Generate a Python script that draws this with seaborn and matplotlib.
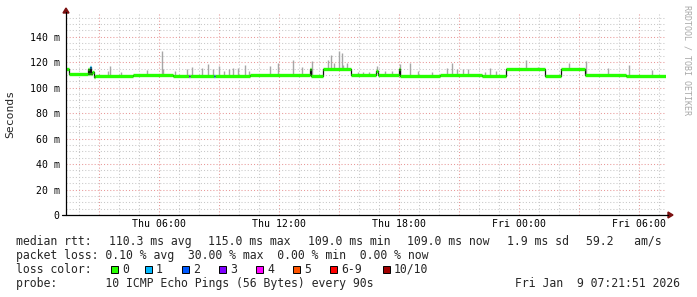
import numpy as np
import pandas as pd
import matplotlib
matplotlib.use("Agg")
import matplotlib.pyplot as plt
import seaborn as sns
from matplotlib.patches import Rectangle, Polygon
from matplotlib.lines import Line2D

# ---------------- data (time in hours since Thu 00:00, values in ms) ----------------
t_start = 1.3642   # Thu 01:21:51
t_end = 31.3642    # Fri 07:21:51

seg_start = [1.364, 1.51, 2.46, 2.51, 2.56, 2.61, 2.66, 2.76, 2.81, 4.71, 6.71, 7.51, 7.56,
             8.76, 8.81, 10.56, 13.56, 13.61, 14.21, 15.61, 16.86, 16.94, 18.01, 18.06,
             20.06, 22.16, 23.36, 25.31, 26.11, 27.31, 29.36]
seg_value = [114.8, 110.4, 114.6, 110.4, 116.0, 110.4, 112.5, 108.6, 109.3, 110.3, 109.3, 108.8, 109.3,
             108.8, 109.3, 110.3, 114.5, 109.3, 115.0, 110.3, 113.0, 110.3, 114.4, 109.3,
             110.3, 109.0, 114.4, 109.2, 114.4, 110.0, 109.2]
seg_loss = [0, 0, 0, 0, 1, 0, 0, 0, 0, 0, 0, 3, 0,
            2, 0, 0, 0, 0, 0, 0, 0, 0, 0, 0,
            0, 0, 0, 0, 0, 0, 0]

smoke_time = [3.45, 3.56, 4.10, 5.41, 6.14, 6.23, 6.81, 7.40, 7.68, 8.18, 8.44, 8.73, 9.01,
              9.25, 9.53, 9.73, 9.98, 10.31, 10.53, 11.56, 11.98, 12.73, 13.15, 13.65,
              14.48, 14.59, 14.76, 14.86, 15.03, 15.15, 15.23, 15.40, 15.98, 16.23, 16.53,
              16.90, 17.31, 17.65, 18.06, 18.56, 18.98, 19.65, 20.40, 20.66, 20.90, 21.23,
              21.48, 22.31, 22.56, 22.86, 24.35, 24.98, 26.53, 27.35, 28.48, 29.53, 30.65]
smoke_top = [113.3, 117.0, 112.0, 114.0, 129.0, 115.0, 113.0, 114.5, 116.4, 115.5, 118.6, 114.6, 117.0,
             113.0, 114.4, 115.4, 115.4, 117.8, 113.0, 117.0, 119.0, 121.7, 116.0, 121.0,
             121.5, 125.6, 119.0, 115.5, 128.5, 127.2, 118.0, 119.0, 112.5, 112.5, 112.5,
             117.2, 112.8, 113.0, 118.6, 119.6, 113.0, 112.5, 115.2, 119.0, 114.4, 115.0,
             115.0, 112.5, 115.7, 113.0, 121.7, 116.4, 119.0, 121.0, 115.4, 117.5, 114.0]

y_ticks = [0, 20, 40, 60, 80, 100, 120, 140]
y_tick_labels = ["0", "20 m", "40 m", "60 m", "80 m", "100 m", "120 m", "140 m"]
x_ticks = [6, 12, 18, 24, 30]
x_tick_labels = ["Thu 06:00", "Thu 12:00", "Thu 18:00", "Fri 00:00", "Fri 06:00"]

loss_labels = ["0", "1", "2", "3", "4", "5", "6-9", "10/10"]
loss_colors = ["#26ff00", "#00b8ff", "#0059ff", "#7e00ff", "#ff00ff", "#ff5500", "#ff0000", "#a10000"]

rtt_items = ["median rtt:", "110.3 ms avg", "115.0 ms max", "109.0 ms min",
             "109.0 ms now", "1.9 ms sd", "59.2   am/s"]
line2 = "packet loss: 0.10 % avg  30.00 % max  0.00 % min  0.00 % now"
line3 = "loss color:"
line4 = "probe:       10 ICMP Echo Pings (56 Bytes) every 90s"
stamp = "Fri Jan  9 07:21:51 2026"
watermark = "RRDTOOL / TOBI OETIKER"

# ---------------- figure ----------------
sns.set_theme(style="white")
plt.rcParams['font.family'] = ['DejaVu Sans Mono', 'DejaVu Sans']

W, H = 697, 297
fig = plt.figure(figsize=(W / 100, H / 100), dpi=100)
fig.patch.set_facecolor("white")

def fx(px):
    return px / W

def fy(py):
    return 1 - py / H

ax_left, ax_right, ax_top, ax_bot = 66, 666, 13, 215
ax = fig.add_axes([fx(ax_left), fy(ax_bot), (ax_right - ax_left) / W, (ax_bot - ax_top) / H])
ax.set_facecolor("white")
ppm = (215 - 36.7) / 140.0
ax.set_xlim(t_start, t_end)
ax.set_ylim(0, (ax_bot - ax_top) / ppm)

# grid
ax.set_yticks(y_ticks)
ax.set_yticklabels(y_tick_labels)
ax.yaxis.set_minor_locator(matplotlib.ticker.MultipleLocator(5))
major_x = np.arange(3, 31, 3)
ax.set_xticks(major_x)
lab_map = dict(zip(x_ticks, x_tick_labels))
ax.set_xticklabels([lab_map.get(int(v), "") for v in major_x])
ax.xaxis.set_minor_locator(matplotlib.ticker.MultipleLocator(1))
ax.grid(which="minor", color="#c8c8c8", linestyle=(0, (1, 2)), linewidth=0.75)
ax.grid(which="major", color="#e89898", linestyle=(0, (1, 2)), linewidth=0.75)
ax.set_axisbelow(True)
ax.tick_params(axis="both", which="both", length=0, labelsize=7.1, colors="black")
ax.tick_params(axis="y", pad=4.6)
ax.tick_params(axis="x", pad=3.2)
for s in ax.spines.values():
    s.set_visible(False)

# smoke
seg_start_a = np.array(seg_start)
idx = np.searchsorted(seg_start_a, np.array(smoke_time), side="right") - 1
smoke_bottom = np.array(seg_value)[idx]
ax.vlines(smoke_time, smoke_bottom, smoke_top, colors="#a6a6a6", linewidth=1.0, zorder=2)

# median step line (black) through seaborn
df = pd.DataFrame({"t": seg_start + [t_end], "v": seg_value + [seg_value[-1]]})
sns.lineplot(data=df, x="t", y="v", drawstyle="steps-post", color="#111111",
             linewidth=0.9, estimator=None, ax=ax, zorder=3)
# loss-coloured median segments
seg_end = seg_start[1:] + [t_end]
ax.hlines(seg_value, seg_start, seg_end, colors=[loss_colors[l] for l in seg_loss],
          linewidth=2.4, zorder=4)
ax.set_xlabel("")
ax.set_ylabel("")

# axes lines + arrows
arrow_col = "#7a1010"
fig.add_artist(Line2D([fx(66), fx(66)], [fy(215), fy(12)], color="black", lw=0.9))
fig.add_artist(Line2D([fx(62), fx(668)], [fy(215), fy(215)], color="black", lw=0.9))
fig.add_artist(Polygon([[fx(63), fy(13)], [fx(69), fy(13)], [fx(66), fy(8)]],
                       closed=True, color=arrow_col, transform=fig.transFigure))
fig.add_artist(Polygon([[fx(668), fy(212)], [fx(668), fy(218)], [fx(673), fy(215)]],
                       closed=True, color=arrow_col, transform=fig.transFigure))

# labels
fig.text(fx(10), fy(114), "Seconds", rotation=90, ha="center", va="center", fontsize=8.2)
fig.text(fx(687), fy(5), watermark, rotation=270, ha="center", va="top", fontsize=6,
         color="#a8a8a8")

fs = 8.3
# justified first legend line (rrdtool spreads items across the width)
char_w = 6.94
gap = (662 - 16 - char_w * sum(len(s) for s in rtt_items)) / (len(rtt_items) - 1)
xpos = 16.0
for item in rtt_items:
    fig.text(fx(xpos), fy(245), item, ha="left", va="baseline", fontsize=fs)
    xpos += len(item) * char_w + gap
fig.text(fx(16), fy(259), line2, ha="left", va="baseline", fontsize=fs)
fig.text(fx(16), fy(273), line3, ha="left", va="baseline", fontsize=fs)
fig.text(fx(16), fy(287), line4, ha="left", va="baseline", fontsize=fs)
fig.text(fx(680), fy(287), stamp, ha="right", va="baseline", fontsize=fs)

# loss colour legend
box_x = [111, 145, 182, 219, 256, 293, 330, 383]
for bx, lab, col in zip(box_x, loss_labels, loss_colors):
    fig.add_artist(Rectangle((fx(bx), fy(273)), 7 / W, 7 / H, transform=fig.transFigure,
                             facecolor=col, edgecolor="black", linewidth=0.7))
    fig.text(fx(bx + 11), fy(273), lab, ha="left", va="baseline", fontsize=fs)

fig.savefig("out.png", dpi=100, facecolor="white")
